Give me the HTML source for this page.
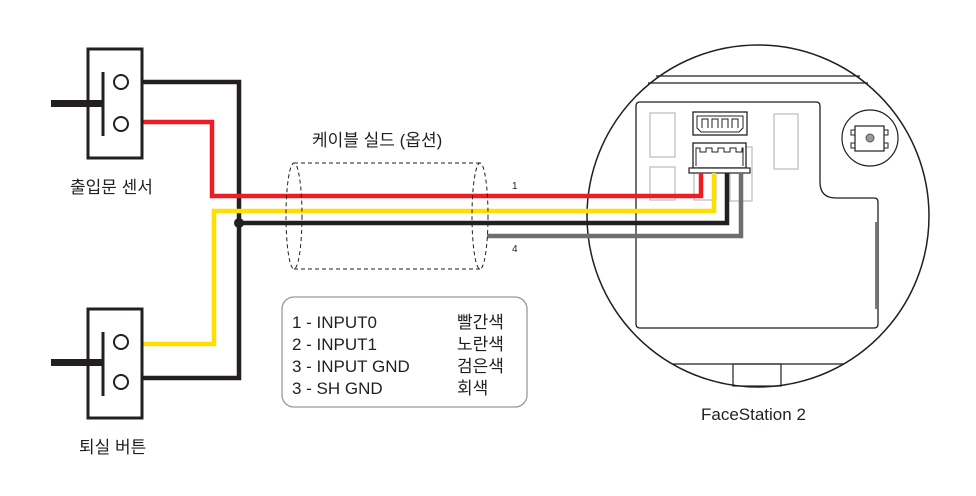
<!DOCTYPE html>
<html><head><meta charset="utf-8"><style>
html,body{margin:0;padding:0;background:#fff;width:976px;height:496px;overflow:hidden}
svg{display:block}
text{font-family:"Liberation Sans","Noto Sans CJK KR",sans-serif;fill:#231f20}
</style></head><body>
<svg width="976" height="496" viewBox="0 0 976 496" xmlns="http://www.w3.org/2000/svg">
<!-- right circle device -->
<circle cx="758" cy="216" r="171" fill="none" stroke="#231f20" stroke-width="1.5"/>
<line x1="656" y1="76" x2="860" y2="76" stroke="#231f20" stroke-width="1.2"/>
<line x1="648" y1="83" x2="868" y2="83" stroke="#231f20" stroke-width="1.2"/>
<line x1="672" y1="364" x2="844" y2="364" stroke="#231f20" stroke-width="1.2"/>
<rect x="733" y="364" width="48" height="22" fill="none" stroke="#231f20" stroke-width="1.2"/>
<path d="M640 102 H816 Q820 102 820 106 V182 Q820 198 836 198 H874 Q878 198 878 202 V324 Q878 328 874 328 H640 Q636 328 636 324 V106 Q636 102 640 102 Z" fill="none" stroke="#231f20" stroke-width="1.3"/>
<line x1="876" y1="222" x2="876" y2="309" stroke="#231f20" stroke-width="1.2"/>
<circle cx="870" cy="138" r="28" fill="none" stroke="#231f20" stroke-width="1.2"/>
<rect x="855" y="126" width="29" height="25" fill="none" stroke="#231f20" stroke-width="1.2"/>
<rect x="851" y="130" width="4" height="5" fill="none" stroke="#231f20"/>
<rect x="851" y="143" width="4" height="5" fill="none" stroke="#231f20"/>
<rect x="884" y="130" width="4" height="5" fill="none" stroke="#231f20"/>
<rect x="884" y="143" width="4" height="5" fill="none" stroke="#231f20"/>
<circle cx="870" cy="138" r="4" fill="#999" stroke="#555"/>
<g fill="none" stroke="#bbb" stroke-width="1.2">
<rect x="650" y="113" width="25" height="44"/>
<rect x="650" y="167" width="25" height="33"/>
<rect x="774" y="114" width="24" height="55"/>
<rect x="730" y="147" width="22" height="54"/>
<rect x="694" y="170" width="22" height="30"/>
</g>
<rect x="693" y="112" width="54" height="23" fill="none" stroke="#231f20" stroke-width="1.3"/>
<path d="M697 116 H743 V128 L739 132 H701 L697 128 Z" fill="none" stroke="#231f20"/>
<path d="M702 128 V119 H708 V128 M712 128 V119 H718 V128 M722 128 V119 H728 V128 M732 128 V119 H738 V128" fill="none" stroke="#231f20"/>
<rect x="693" y="143" width="53" height="25" fill="#fff" stroke="#231f20" stroke-width="1.3"/>
<path d="M696 166 V148 H700 V152 H706 V148 H712 V152 H718 V148 H724 V152 H730 V148 H736 V152 H742 V148 H743 V166" fill="none" stroke="#231f20"/>
<rect x="689" y="168" width="61" height="5" fill="#fff" stroke="#231f20" stroke-width="1.2"/>
<!-- wires -->
<g fill="none" stroke-width="4.5" stroke-linejoin="miter">
<polyline points="142,82 239,82 239,378 142,378" stroke="#231f20"/>
<polyline points="142,122 212,122 212,196 701,196 701,173" stroke="#ee1c25"/>
<polyline points="142,344 214,344 214,211 714,211 714,173" stroke="#ffde00"/>
<polyline points="239,223 727,223 727,173" stroke="#231f20"/>
<polyline points="487,236 741,236 741,173" stroke="#6d6e70"/>
</g>
<circle cx="239" cy="223" r="5" fill="#231f20"/>
<!-- switches -->
<g fill="none" stroke="#231f20">
<rect x="88" y="49" width="54" height="109" stroke-width="3"/>
<rect x="88" y="309" width="54" height="109" stroke-width="3"/>
<line x1="103" y1="72" x2="103" y2="136" stroke-width="3"/>
<line x1="103" y1="332" x2="103" y2="396" stroke-width="3"/>
<circle cx="121" cy="82" r="7" stroke-width="2"/>
<circle cx="121" cy="124" r="7" stroke-width="2"/>
<circle cx="121" cy="342" r="7" stroke-width="2"/>
<circle cx="121" cy="382" r="7" stroke-width="2"/>
</g>
<rect x="51" y="100" width="52" height="7" fill="#231f20"/>
<rect x="51" y="359" width="52" height="7" fill="#231f20"/>
<!-- shield -->
<g fill="none" stroke="#231f20" stroke-width="1" stroke-dasharray="4,3">
<path d="M294 163 H480 M294 269 H480"/>
<ellipse cx="294" cy="216" rx="8" ry="53"/>
<ellipse cx="480" cy="216" rx="8" ry="53"/>
</g>
<!-- legend -->
<rect x="282" y="297" width="245" height="110" rx="12" fill="none" stroke="#999" stroke-width="1.3"/>
<g font-size="17">
<text x="292" y="328">1 - INPUT0</text>
<text x="292" y="350">2 - INPUT1</text>
<text x="292" y="372">3 - INPUT GND</text>
<text x="292" y="394">3 - SH GND</text>
<text x="457" y="328">빨간색</text>
<text x="457" y="350">노란색</text>
<text x="457" y="372">검은색</text>
<text x="457" y="394">회색</text>
</g>
<text x="312" y="146" font-size="17">케이블 실드 (옵션)</text>
<text x="512" y="189" font-size="10">1</text>
<text x="512" y="252" font-size="10">4</text>
<text x="70" y="193" font-size="17">출입문 센서</text>
<text x="79" y="453" font-size="17">퇴실 버튼</text>
<text x="701" y="420" font-size="17">FaceStation 2</text>
</svg>
</body></html>
